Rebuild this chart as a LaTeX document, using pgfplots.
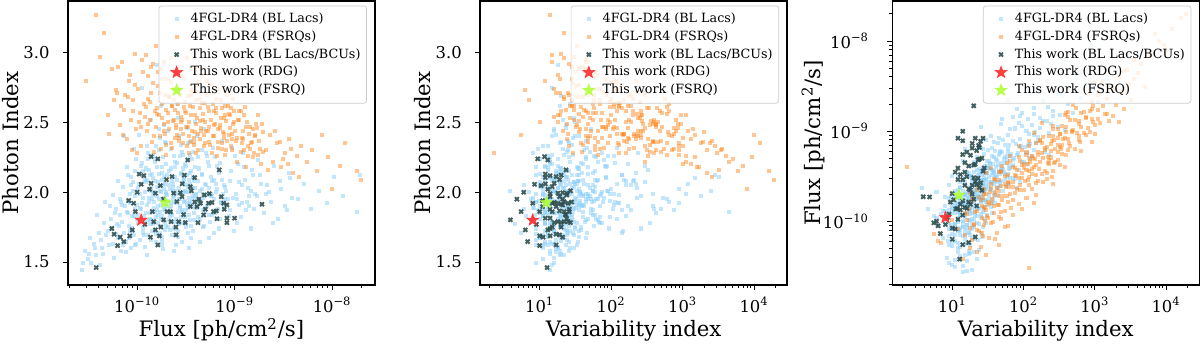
\documentclass[border=0pt]{standalone}
\usepackage{fontspec}
\setmainfont{DejaVu Serif}
\usepackage{pgfplots}
\usepackage{pgfplotstable}
\pgfplotsset{compat=1.18}
\usetikzlibrary{plotmarks}

\definecolor{bllac}{RGB}{135,206,250}
\definecolor{fsrq}{RGB}{255,127,14}
\definecolor{thiswork}{RGB}{47,79,79}
\definecolor{rdg}{RGB}{255,45,45}
\definecolor{fsrqstar}{RGB}{173,255,47}

% filled five-point star (matplotlib '*')
\pgfdeclareplotmark{fstar}{%
  \pgfpathmoveto{\pgfpointpolar{90}{\pgfplotmarksize}}%
  \pgfpathlineto{\pgfpointpolar{126}{0.42\pgfplotmarksize}}%
  \pgfpathlineto{\pgfpointpolar{162}{\pgfplotmarksize}}%
  \pgfpathlineto{\pgfpointpolar{198}{0.42\pgfplotmarksize}}%
  \pgfpathlineto{\pgfpointpolar{234}{\pgfplotmarksize}}%
  \pgfpathlineto{\pgfpointpolar{270}{0.42\pgfplotmarksize}}%
  \pgfpathlineto{\pgfpointpolar{306}{\pgfplotmarksize}}%
  \pgfpathlineto{\pgfpointpolar{342}{0.42\pgfplotmarksize}}%
  \pgfpathlineto{\pgfpointpolar{18}{\pgfplotmarksize}}%
  \pgfpathlineto{\pgfpointpolar{54}{0.42\pgfplotmarksize}}%
  \pgfpathclose\pgfusepathqfillstroke}

% F = flux in units of 1e-10 ph/cm2/s, G = photon index, V = variability index
\pgfplotstableread{
F G V
0.27 1.44 14
0.31 1.52 11
0.29 1.58 19
0.34 1.49 9
0.36 1.63 16
0.38 1.55 22
0.41 1.71 13
0.33 1.67 10
0.44 1.60 18
0.46 1.78 12
0.42 1.48 15
0.48 1.69 24
0.39 1.84 8.5
0.47 1.93 17
0.45 1.56 20
0.52 1.62 13
0.55 1.74 9
0.58 1.53 16
0.61 1.88 11
0.63 1.67 21
0.66 1.95 7.5
0.68 1.58 14
0.70 1.79 18
0.72 2.04 10
0.74 1.71 25
0.77 1.64 12
0.79 1.86 15
0.81 2.12 9
0.83 1.76 19
0.85 1.92 13
0.87 1.60 27
0.89 1.83 6.5
0.91 2.01 16
0.93 1.69 11
0.95 1.97 22
0.97 2.24 14
0.99 1.81 8
0.54 1.81 18
0.57 1.98 12
0.60 1.70 8.8
0.64 2.08 15
0.67 1.84 26
0.71 1.62 11
0.75 1.90 17
0.78 2.18 13
0.82 1.67 10
0.86 2.05 20
0.88 1.74 14
0.92 2.31 9.5
0.96 1.88 30
0.98 1.63 12
0.62 1.77 23
0.69 1.93 9
0.76 1.57 17
0.84 1.99 11
0.90 1.72 16
0.94 2.15 24
0.53 1.90 10
0.73 2.40 15
0.80 1.85 12.5
1.02 1.78 12
1.05 2.06 19
1.08 1.66 9
1.11 1.92 25
1.13 2.21 14
1.16 1.74 31
1.19 2.00 7
1.22 1.85 16
1.25 2.33 11
1.28 1.69 21
1.31 1.96 13
1.34 2.12 28
1.37 1.81 10
1.40 2.03 18
1.43 1.72 35
1.46 2.27 15
1.49 1.89 8
1.52 2.08 22
1.55 1.64 14
1.58 1.97 40
1.61 2.18 12
1.64 1.84 19
1.67 2.45 16
1.70 1.76 26
1.73 2.01 11
1.76 1.91 33
1.79 2.14 17
1.82 1.68 13
1.85 2.05 23
1.88 1.87 9.5
1.91 2.36 20
1.94 1.79 15
1.97 1.99 44
1.04 2.41 17
1.10 1.88 6
1.15 2.15 22
1.21 1.61 18
1.27 2.09 12
1.33 1.93 9
1.39 2.52 21
1.45 1.80 27
1.51 2.24 10
1.57 1.70 16
1.63 2.07 30
1.69 1.95 13
1.75 2.62 19
1.81 1.83 24
1.87 2.11 11
1.93 1.73 38
1.99 2.20 15
1.07 1.99 28
1.18 1.83 13
1.30 2.28 8
1.42 1.95 19
1.54 1.86 12
1.66 2.30 25
1.78 1.65 20
1.90 2.02 14
1.12 2.75 15
1.36 1.77 4.5
1.60 2.91 18
1.84 1.59 17
1.24 2.17 36
1.48 2.00 16
1.72 2.39 29
1.96 1.90 21
1.14 1.71 5.5
1.41 2.13 10
1.65 1.78 14
1.89 2.48 23
2.03 1.98 25
2.08 1.75 38
2.13 2.15 17
2.18 1.88 52
2.24 2.31 21
2.29 1.69 30
2.35 2.04 13
2.40 1.93 44
2.46 2.22 27
2.52 1.81 19
2.58 2.09 60
2.64 1.72 24
2.70 2.40 35
2.76 1.95 15
2.82 2.13 48
2.88 1.86 29
2.95 2.27 22
3.02 1.78 70
3.09 2.01 33
3.16 2.19 18
3.23 1.91 41
3.30 2.35 26
3.38 1.84 55
3.46 2.06 31
3.54 1.67 20
3.62 2.24 45
3.70 1.97 36
3.78 2.11 24
3.86 1.80 65
3.94 2.03 28
2.05 2.44 16
2.15 1.83 11
2.27 2.08 34
2.38 1.74 22
2.50 1.99 9
2.62 2.53 30
2.74 1.90 42
2.86 1.64 26
2.98 2.17 19
3.12 1.94 58
3.26 2.46 23
3.40 2.00 37
3.56 1.76 16
3.72 2.29 50
3.90 1.89 32
2.10 2.05 6
2.32 1.96 80
2.56 2.63 27
2.80 1.82 40
3.05 2.10 14
3.34 1.71 46
3.60 2.37 25
3.84 2.08 34
2.22 1.92 29
2.44 2.18 47
2.68 1.77 21
2.92 2.00 75
3.20 1.87 12
3.48 2.14 39
3.76 1.95 62
2.12 2.69 20
2.48 1.62 33
2.84 2.34 28
3.18 2.05 10
3.52 1.93 54
3.88 2.50 31
2.36 2.01 3.8
2.72 2.26 90
3.10 1.79 43
3.44 2.09 17
4.05 1.99 48
4.20 1.82 70
4.35 2.17 34
4.50 1.94 95
4.66 2.30 42
4.82 1.76 58
4.98 2.06 120
5.15 1.90 39
5.33 2.22 65
5.51 1.84 28
5.70 2.11 84
5.90 1.97 50
6.10 1.71 140
6.31 2.25 61
6.53 2.02 36
6.75 1.88 105
6.98 2.14 55
7.22 1.93 78
7.47 2.37 44
7.72 2.05 160
4.12 2.40 31
4.42 2.01 55
4.74 1.87 24
5.06 2.28 74
5.42 1.67 45
5.80 2.08 200
6.20 1.95 32
6.64 2.19 88
7.10 1.81 62
7.60 1.99 38
4.28 1.91 110
4.58 2.13 20
4.90 2.45 53
5.24 1.98 130
5.60 1.79 67
6.00 2.32 46
6.42 2.00 25
6.86 1.74 93
7.34 2.09 150
7.86 1.90 71
4.70 1.96 14
5.50 2.03 230
6.30 1.85 15
7.00 2.21 115
7.90 1.95 52
8.2 2.01 90
8.7 1.83 160
9.1 2.15 60
9.6 1.96 230
10.1 2.26 110
10.7 1.78 75
11.2 2.07 300
11.8 1.92 130
12.4 2.18 85
13.1 1.87 190
13.8 2.03 50
14.6 1.74 260
15.4 2.12 140
8.5 1.95 45
9.3 2.32 120
10.4 1.99 380
11.5 1.82 95
12.8 2.09 210
14.2 1.97 70
15.8 1.88 500
8.9 2.08 35
10.9 2.20 170
13.5 1.93 115
9.8 1.72 145
12.1 2.28 240
14.9 2.01 88
11.0 1.91 25
15.2 2.16 330
16.8 1.97 260
18.3 2.12 140
19.9 1.85 420
21.6 2.05 190
23.5 1.93 650
25.6 2.19 300
27.8 1.81 120
30.2 2.02 900
32.9 1.90 380
35.8 2.14 220
38.9 1.96 540
17.5 2.23 80
20.8 1.99 1100
24.6 1.78 350
29.0 2.08 160
34.1 1.87 750
22.3 2.00 60
37.0 2.10 1500
45 1.95 600
52 2.06 1200
61 1.88 400
73 2.01 2500
88 1.92 900
105 2.11 3200
130 1.97 1800
180 1.86 4500
195 2.12 2800
0.81 1.94 9.7
0.86 2.11 14
0.93 1.83 11
1.01 2.03 18
1.06 1.89 8.3
1.09 2.19 12
1.14 1.96 21
1.20 1.79 15
1.23 2.07 10
1.26 1.91 27
1.32 2.16 13
1.35 1.85 17
1.38 2.01 23
1.44 1.77 12
1.47 2.10 16
1.50 1.93 31
1.53 2.22 14
1.56 1.82 20
1.59 2.04 11
1.62 1.90 25
1.68 2.13 18
1.71 1.86 14
1.74 2.00 37
1.77 1.81 22
1.80 2.09 16
1.83 1.95 12
1.86 2.25 26
1.92 1.88 19
1.95 2.06 33
1.98 1.76 15
2.02 2.12 22
2.07 1.94 17
2.11 1.80 28
2.16 2.02 14
2.20 1.90 35
2.25 2.17 20
2.30 1.84 25
2.34 2.06 42
2.39 1.97 18
2.43 1.79 30
2.47 2.11 23
2.53 1.92 15
2.57 2.21 38
2.61 1.86 27
2.66 2.03 21
2.71 1.95 47
2.75 1.78 33
2.79 2.14 19
2.85 1.99 26
2.90 1.87 55
2.96 2.07 30
3.00 1.93 22
3.07 2.20 40
3.13 1.82 28
3.19 2.00 17
3.25 2.12 36
3.31 1.89 24
3.36 2.04 60
3.42 1.96 31
3.50 1.80 45
3.57 2.15 26
3.65 1.91 38
3.73 2.03 22
3.81 1.85 52
3.89 2.18 33
3.97 1.98 41
4.07 1.89 29
4.17 2.08 63
4.31 1.94 37
4.46 1.81 48
4.61 2.12 33
4.77 1.99 72
4.94 1.86 41
5.12 2.05 55
5.30 1.92 36
5.48 2.19 82
5.67 1.97 47
5.87 1.84 60
6.08 2.09 40
0.85 1.72 16
0.95 1.62 9
1.03 1.84 20
1.17 1.69 13
1.29 2.24 18
1.40 1.66 24
1.57 2.33 13
1.72 1.71 29
1.87 1.96 8
2.00 2.35 19
2.19 1.73 23
2.41 2.26 13
2.63 1.68 36
2.87 2.29 24
3.15 1.75 19
3.45 2.27 29
3.78 1.72 27
4.20 2.25 44
4.70 1.75 31
5.25 2.26 58
0.91 2.07 19
1.00 1.91 14
1.19 2.09 25
1.31 1.80 7.5
1.46 1.98 11
1.61 1.87 36
1.79 2.18 9
1.99 2.00 27
2.21 1.85 12
2.46 2.01 56
2.73 1.89 13
3.03 2.09 65
3.37 1.92 16
3.74 2.10 85
4.14 1.95 19
4.60 2.02 100
5.10 1.89 22
5.70 1.99 110
6.40 2.06 27
7.20 1.92 125
8.00 2.04 30
9.00 1.87 140
10.5 1.95 65
12.0 2.05 48
13.9 1.90 170
16.0 1.99 95
18.5 2.06 220
0.70 1.91 13
0.65 1.76 19
0.59 1.85 10
0.56 1.63 15
0.50 1.72 12
0.43 1.66 17
0.37 1.60 11
0.32 1.56 14
0.28 1.49 16
1.25 1.55 19
1.80 1.62 23
2.40 1.58 26
3.40 1.60 30
4.40 1.64 34
}\bllacs

\pgfplotstableread{
F G V
0.38 3.27 14
0.30 2.80 120
0.42 2.97 30
0.46 3.14 22
0.50 2.55 18
0.55 2.88 45
0.58 2.66 7
0.52 2.42 25
0.60 2.73 6.3
0.62 2.71 19
0.66 2.48 33
0.70 2.93 15
0.74 2.59 42
0.78 2.38 24
0.82 2.80 12
0.86 2.52 55
0.90 2.66 28
0.94 2.99 20
0.98 2.45 37
1.02 2.74 16
1.06 2.57 48
1.10 2.33 26
1.14 2.86 31
1.18 2.63 70
0.64 2.90 40
0.72 2.41 5.5
0.80 2.68 22
0.88 2.30 60
0.96 2.77 35
1.04 2.50 10
1.12 2.95 45
0.68 2.62 27
0.84 2.84 18
1.00 2.28 29
1.22 2.61 38
1.26 2.44 21
1.30 2.83 55
1.34 2.52 30
1.38 2.71 17
1.42 2.36 66
1.47 2.92 26
1.52 2.58 44
1.57 2.47 85
1.62 2.76 32
1.67 2.55 19
1.72 2.40 50
1.77 2.88 36
1.82 2.63 110
1.87 2.49 24
1.92 2.70 58
1.97 2.34 40
2.02 2.81 28
2.08 2.57 75
2.14 2.45 45
2.20 2.96 22
2.26 2.62 130
2.32 2.51 35
2.38 2.74 62
2.44 2.39 48
1.24 2.98 15
1.36 2.65 95
1.49 2.29 39
1.64 2.86 60
1.79 2.53 27
1.94 2.42 150
2.11 2.68 34
2.29 2.32 80
2.47 2.59 23
1.28 2.49 48
1.44 2.78 29
1.59 2.60 140
1.74 2.31 70
1.89 2.93 45
2.05 2.50 18
2.23 2.79 100
2.41 2.66 57
1.55 3.05 33
1.99 2.27 65
2.35 2.87 42
2.52 2.48 90
2.60 2.63 55
2.68 2.37 150
2.76 2.74 70
2.85 2.54 40
2.94 2.42 210
3.03 2.81 85
3.12 2.58 120
3.22 2.33 60
3.32 2.69 180
3.42 2.50 95
3.53 2.88 45
3.64 2.44 260
3.75 2.61 110
3.87 2.39 75
3.99 2.77 140
4.11 2.53 50
4.24 2.30 320
4.37 2.67 100
4.50 2.46 170
4.64 2.84 65
4.78 2.56 230
4.93 2.35 125
2.56 2.90 35
2.80 2.45 105
3.07 2.65 250
3.37 2.28 130
3.70 2.72 80
4.05 2.49 380
4.44 2.60 58
4.85 2.41 145
2.64 2.57 62
2.98 2.35 38
3.27 2.96 150
3.58 2.55 200
3.93 2.43 35
4.30 2.79 115
4.70 2.52 90
2.72 2.70 190
3.17 2.47 78
3.47 2.62 30
3.81 2.36 165
4.17 2.90 95
4.57 2.44 280
4.99 2.64 135
2.90 2.52 115
3.60 2.70 48
4.00 2.28 2.3
4.40 2.38 220
2.58 2.41 260
5.1 2.44 240
5.3 2.61 130
5.5 2.36 400
5.7 2.52 180
5.9 2.71 300
6.1 2.40 95
6.4 2.57 520
6.7 2.32 210
7.0 2.48 350
7.3 2.66 150
7.6 2.43 620
7.9 2.55 270
8.2 2.30 420
8.6 2.62 190
9.0 2.46 750
9.4 2.38 330
9.8 2.58 480
5.2 2.80 220
5.8 2.28 160
6.3 2.49 280
6.9 2.74 120
7.5 2.35 900
8.1 2.51 360
8.8 2.41 230
9.6 2.67 560
5.4 2.47 110
6.0 2.63 650
6.6 2.26 330
7.2 2.53 240
7.8 2.39 170
8.4 2.70 300
9.2 2.33 1000
9.9 2.50 400
5.6 2.34 350
6.2 2.58 200
6.8 2.45 85
7.4 2.60 440
8.0 2.27 600
8.9 2.55 260
9.5 2.42 140
10.3 2.37 500
10.9 2.52 800
11.5 2.29 350
12.2 2.44 1200
12.9 2.61 600
13.7 2.33 900
14.5 2.47 420
15.4 2.25 1500
16.3 2.40 700
17.3 2.55 1100
18.3 2.31 550
19.4 2.43 2000
10.6 2.22 300
11.8 2.39 1000
13.3 2.50 450
14.9 2.35 1800
16.8 2.46 850
18.8 2.20 1300
11.2 2.58 650
12.6 2.30 2200
14.1 2.42 750
15.9 2.28 400
17.8 2.37 2600
19.0 2.49 950
13.0 2.18 1600
21 2.30 900
23 2.41 1500
25 2.22 1100
27 2.35 2400
30 2.18 1700
33 2.28 3000
36 2.38 1300
40 2.14 2200
44 2.26 4000
48 2.33 2800
22 2.16 3200
26 2.44 800
31 2.24 5000
38 2.31 3600
46 2.11 2600
29 2.36 1900
35 2.20 1000
55 2.22 4500
62 2.30 3500
70 2.15 6000
78 2.41 10000
100 2.02 8000
135 2.35 12000
180 2.15 16000
200 2.09 19000
90 2.25 9500
120 2.19 7000
1.6 2.56 35
1.9 2.44 52
2.1 2.68 40
2.4 2.52 72
2.7 2.39 60
3.0 2.61 95
3.3 2.47 75
3.6 2.73 120
3.9 2.55 100
4.2 2.42 150
4.6 2.64 125
5.0 2.50 190
5.5 2.58 160
6.0 2.40 240
6.5 2.67 200
7.1 2.46 300
7.7 2.53 250
8.4 2.37 380
9.2 2.60 320
10.0 2.44 480
11.0 2.52 400
12.0 2.35 600
13.2 2.47 520
14.5 2.31 750
16.0 2.41 650
17.5 2.27 900
1.7 2.71 25
2.2 2.35 90
2.9 2.83 45
3.4 2.40 210
4.0 2.66 70
4.8 2.33 300
5.8 2.77 110
6.8 2.36 450
8.0 2.62 170
9.5 2.30 700
11.5 2.58 260
13.8 2.26 1100
16.5 2.49 420
2.0 2.59 30
2.5 2.46 120
3.2 2.57 55
3.8 2.34 130
4.4 2.51 270
5.2 2.70 85
6.2 2.48 420
7.4 2.31 180
8.8 2.56 600
10.5 2.39 260
12.6 2.55 950
15.0 2.36 380
1.3 2.67 22
1.5 2.40 45
1.8 2.81 19
2.3 2.62 28
2.8 2.50 160
3.5 2.36 48
4.3 2.72 230
5.3 2.44 65
6.4 2.60 340
7.8 2.42 120
9.7 2.49 850
12.3 2.38 180
15.6 2.45 1400
19.5 2.29 500
0.9 2.58 20
1.1 2.47 32
1.4 2.90 28
1.2 2.54 16
0.75 2.70 26
}\fsrqs

\pgfplotstableread{
F G V
1.39 2.255 11.7
1.63 2.239 9.4
3.30 2.231 13
6.95 2.160 23.4
1.17 2.119 14
2.28 2.112 17
3.05 2.122 20
3.89 2.105 12
1.10 2.057 8.5
1.39 2.064 16
1.73 2.047 10.5
1.00 2.000 6.0
1.34 2.021 13
1.54 1.993 18
2.77 1.997 21
3.51 2.040 15
4.89 1.980 24
7.30 1.968 19
0.92 1.921 8
1.86 1.950 4.8
2.89 1.968 14
2.56 1.933 22
5.86 1.926 16
7.71 1.921 25
8.34 1.909 21
19.1 1.914 20
3.51 1.897 11
4.11 1.897 17
5.01 1.878 26
6.49 1.866 19
7.83 1.878 14
0.96 1.861 5.5
1.43 1.861 15
2.03 1.861 10
4.81 1.837 23
8.34 1.814 12
9.98 1.814 14
8.34 1.782 27
1.48 1.789 22
1.87 1.802 3.9
2.23 1.789 18
2.67 1.789 25
3.12 1.782 16
4.21 1.782 20
1.54 1.730 13
0.89 1.730 6.3
0.58 1.699 17
0.67 1.678 21
0.84 1.687 10
0.73 1.646 6.8
0.63 1.617 10
1.37 1.678 11.2
1.69 1.687 14
2.51 1.694 19
1.63 1.622 17
0.38 1.460 12.7
6.08 1.861 22
5.41 1.921 18
4.47 1.921 15
2.37 1.993 24
3.60 2.010 27
2.90 2.060 12
4.30 1.950 21
2.20 1.860 26
3.00 1.840 23
2.50 1.750 15
1.75 1.750 20
1.20 1.770 9
5.50 1.990 14
3.90 1.930 28
2.00 2.090 19
6.60 1.810 24
0.82 1.940 11
1.05 2.130 12
0.55 1.740 14
}\thiswork

\pgfplotsset{
  panel/.style={
    scale only axis, width=176.2pt, height=163pt,
    tick align=outside, tick pos=left,
    major tick length=2.9pt, minor tick length=1.7pt,
    every tick/.style={black, line width=0.5pt},
    axis line style={line width=0.8pt},
    tick label style={font=\fontsize{9.4}{11}\selectfont},
    xticklabel style={anchor=base, inner sep=0pt, yshift=-12.8pt},
    yticklabel style={anchor=east, inner sep=0pt, xshift=-7.5pt},
    every axis x label/.style={at={(axis description cs:0.5,-0.183)}, anchor=base,
      font=\fontsize{12.2}{14}\selectfont},
    every axis y label/.style={at={(axis description cs:-0.162,0.5)}, rotate=90, anchor=base,
      font=\fontsize{12.2}{14}\selectfont},
    legend style={font=\fontsize{7.3}{9}\selectfont, at={(0.974,0.984)}, anchor=north east,
      draw=black!20, rounded corners=1.5pt, fill=white, fill opacity=0.8, text opacity=1,
      row sep=0.6pt, inner xsep=2pt, inner ysep=2.6pt,
      nodes={inner xsep=1.5pt, inner ysep=1.3pt}},
    legend cell align=left,
  },
  legimg/.style={legend image code/.code={%
    \path (0cm,0cm) (0.5cm,0cm);
    \draw[##1,mark repeat=2,mark phase=2] plot coordinates {(0.03cm,0cm) (0.28cm,0cm) (0.53cm,0cm)};}},
  bl/.style={only marks, mark=square*, mark size=1.15pt, color=bllac,
    mark options={fill opacity=0.5, draw opacity=0}, legimg},
  fq/.style={only marks, mark=square*, mark size=1.15pt, color=fsrq,
    mark options={fill opacity=0.45, draw opacity=0}, legimg},
  tw/.style={only marks, mark=x, mark size=1.6pt, color=thiswork, opacity=0.9,
    mark options={line width=1.1pt}, legimg},
  rd/.style={only marks, mark=fstar, mark size=3.6pt, color=rdg,
    mark options={fill=rdg, draw=rdg, line width=0.3pt, opacity=0.9}, legimg},
  fs/.style={only marks, mark=fstar, mark size=3.6pt, color=fsrqstar,
    mark options={fill=fsrqstar, draw=fsrqstar, line width=0.3pt, opacity=0.85}, legimg},
}

\begin{document}
\begin{tikzpicture}
\useasboundingbox (-39.0pt,-34.4pt) rectangle (649.8pt,163.6pt);

\begin{axis}[panel, at={(0pt,0pt)}, anchor=south west,
    xmode=log, xmin=0.195, xmax=275, ymin=1.335, ymax=3.37,
    xtick={1,10,100},
    xticklabels={10\textsuperscript{−10},10\textsuperscript{−9},10\textsuperscript{−8}},
    minor xtick={0.2,0.3,0.4,0.5,0.6,0.7,0.8,0.9,2,3,4,5,6,7,8,9,20,30,40,50,60,70,80,90,200},
    ytick={1.5,2.0,2.5,3.0}, yticklabels={1.5,2.0,2.5,3.0},
    xlabel={Flux [ph/cm\textsuperscript{2}/s]}, ylabel={Photon Index}]
\addplot[bl] table[x=F,y=G]{\bllacs};
\addplot[fq] table[x=F,y=G]{\fsrqs};
\addplot[tw] table[x=F,y=G]{\thiswork};
\addplot[rd] coordinates {(1.10,1.80)};
\addplot[fs] coordinates {(1.95,1.926)};
\legend{4FGL-DR4 (BL Lacs),4FGL-DR4 (FSRQs),This work (BL Lacs/BCUs),This work (RDG),This work (FSRQ)}
\end{axis}

\begin{axis}[panel, at={(236.6pt,0pt)}, anchor=south west,
    xmode=log, xmin=1.47, xmax=29000, ymin=1.335, ymax=3.37,
    xtick={10,100,1000,10000},
    xticklabels={10\textsuperscript{1},10\textsuperscript{2},10\textsuperscript{3},10\textsuperscript{4}},
    minor xtick={2,3,4,5,6,7,8,9,20,30,40,50,60,70,80,90,200,300,400,500,600,700,800,900,2000,3000,4000,5000,6000,7000,8000,9000,20000},
    ytick={1.5,2.0,2.5,3.0}, yticklabels={1.5,2.0,2.5,3.0},
    xlabel={Variability index}, ylabel={Photon Index}]
\addplot[bl] table[x=V,y=G]{\bllacs};
\addplot[fq] table[x=V,y=G]{\fsrqs};
\addplot[tw] table[x=V,y=G]{\thiswork};
\addplot[rd] coordinates {(8.0,1.80)};
\addplot[fs] coordinates {(12.4,1.926)};
\legend{4FGL-DR4 (BL Lacs),4FGL-DR4 (FSRQs),This work (BL Lacs/BCUs),This work (RDG),This work (FSRQ)}
\end{axis}

\begin{axis}[panel, at={(473.2pt,0pt)}, anchor=south west,
    xmode=log, ymode=log, xmin=1.44, xmax=29300, ymin=0.196, ymax=278,
    xtick={10,100,1000,10000},
    xticklabels={10\textsuperscript{1},10\textsuperscript{2},10\textsuperscript{3},10\textsuperscript{4}},
    minor xtick={2,3,4,5,6,7,8,9,20,30,40,50,60,70,80,90,200,300,400,500,600,700,800,900,2000,3000,4000,5000,6000,7000,8000,9000,20000},
    ytick={1,10,100},
    yticklabels={10\textsuperscript{−10},10\textsuperscript{−9},10\textsuperscript{−8}},
    minor ytick={0.2,0.3,0.4,0.5,0.6,0.7,0.8,0.9,2,3,4,5,6,7,8,9,20,30,40,50,60,70,80,90,200},
    yticklabel style={anchor=east, inner sep=0pt, xshift=-2.9pt},
    every axis y label/.style={at={(axis description cs:-0.235,0.5)}, rotate=90, anchor=base,
      font=\fontsize{12.2}{14}\selectfont},
    xlabel={Variability index}, ylabel={Flux [ph/cm\textsuperscript{2}/s]}]
\addplot[bl] table[x=V,y=F]{\bllacs};
\addplot[fq] table[x=V,y=F]{\fsrqs};
\addplot[tw] table[x=V,y=F]{\thiswork};
\addplot[rd] coordinates {(8.0,1.10)};
\addplot[fs] coordinates {(12.4,1.95)};
\legend{4FGL-DR4 (BL Lacs),4FGL-DR4 (FSRQs),This work (BL Lacs/BCUs),This work (RDG),This work (FSRQ)}
\end{axis}
\end{tikzpicture}
\end{document}
